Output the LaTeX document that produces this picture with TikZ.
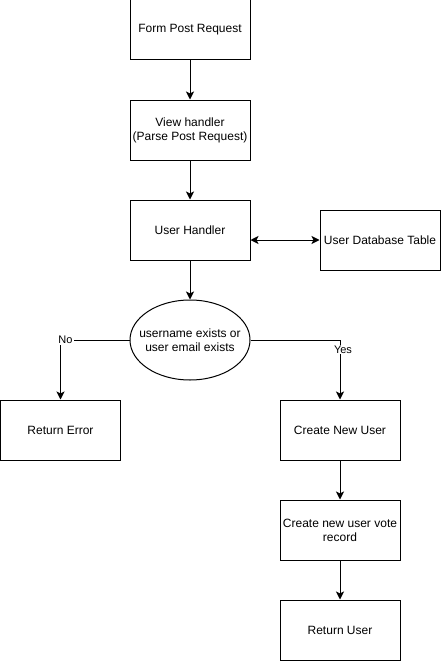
\documentclass[tikz,border=0pt]{standalone}
\usepackage{fontspec}
\setmainfont{Liberation Sans}
\usetikzlibrary{shapes.geometric,arrows.meta}

\begin{document}
\begin{tikzpicture}[x=1pt,y=-1pt,
    box/.style={draw, line width=1pt, minimum width=120pt, minimum height=60pt,
        inner sep=0pt, align=center, font=\fontsize{12}{14}\selectfont},
    arr/.style={line width=1pt, -{Stealth[length=8pt,width=8pt,inset=2pt]}},
    lbl/.style={fill=white, inner sep=1pt, font=\fontsize{11}{13}\selectfont}]
    % Define canvas size
    \def\picwidth{441}
    \def\picheight{661}
    \useasboundingbox (0,0) rectangle (\picwidth,\picheight);

    % Main column
    \node[box] (form) at (190, 30) {Form Post Request};
    \node[box] (view) at (190, 130) {View handler\\(Parse Post Request)};
    \node[box] (hdl) at (190, 230) {User Handler};
    \node[box] (db) at (380, 240) {User Database Table};

    % Decision
    \node[box, ellipse, minimum width=120pt, minimum height=80pt, inner xsep=-12pt] (check) at (190, 340)
        {username exists or\\user email exists};

    % Branches
    \node[box] (err) at (60.5, 430) {Return Error};
    \node[box] (create) at (340, 430) {Create New User};
    \node[box] (vote) at (340, 530) {Create new user vote\\record};
    \node[box] (ret) at (340, 630) {Return User};

    % Connectors
    \draw[arr] (form) -- (view);
    \draw[arr] (view) -- (hdl);
    \draw[line width=1pt, {Stealth[length=8pt,width=8pt,inset=2pt]}-{Stealth[length=8pt,width=8pt,inset=2pt]}]
        (hdl.east |- db.west) -- (db.west);
    \draw[arr] (hdl) -- (check);
    \draw[arr] (check.west) -| node[lbl, pos=0.5, xshift=5pt] {No} (err);
    \draw[arr] (check.east) -| node[lbl, pos=0.58, xshift=3pt] {Yes} (create);
    \draw[arr] (create) -- (vote);
    \draw[arr] (vote) -- (ret);
\end{tikzpicture}
\end{document}
